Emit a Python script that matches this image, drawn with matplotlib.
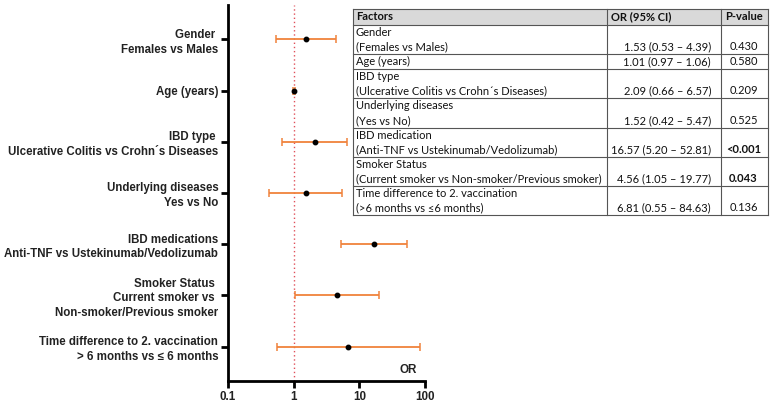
import matplotlib
matplotlib.use("Agg")
import matplotlib.pyplot as plt
from matplotlib.patches import Rectangle
import numpy as np

# ---- data ----
labels = [
    "Gender \nFemales vs Males",
    "Age (years)",
    "IBD type \nUlcerative Colitis vs Crohn\u00b4s Diseases",
    "Underlying diseases\nYes vs No",
    "IBD medications\nAnti-TNF vs Ustekinumab/Vedolizumab",
    "Smoker Status \nCurrent smoker vs \nNon-smoker/Previous smoker",
    "Time difference to 2. vaccination\n> 6 months vs \u2264 6 months",
]
or_vals = [1.53, 1.01, 2.09, 1.52, 16.57, 4.56, 6.81]
ci_low = [0.53, 0.97, 0.66, 0.42, 5.20, 1.05, 0.55]
ci_high = [4.39, 1.06, 6.57, 5.47, 52.81, 19.77, 84.63]
xticks = [0.1, 1, 10, 100]
xtick_labels = ["0.1", "1", "10", "100"]

tab_header = ["Factors", "OR (95% CI)", "P-value"]
tab_factors = [
    ["Gender", "(Females vs Males)"],
    ["Age (years)"],
    ["IBD type", "(Ulcerative Colitis vs Crohn\u00b4s Diseases)"],
    ["Underlying diseases", "(Yes vs No)"],
    ["IBD medication", "(Anti-TNF vs Ustekinumab/Vedolizumab)"],
    ["Smoker Status", "(Current smoker vs Non-smoker/Previous smoker)"],
    ["Time difference to 2. vaccination", "(>6 months vs \u22646 months)"],
]
tab_or = ["1.53 (0.53 \u2013 4.39)", "1.01 (0.97 \u2013 1.06)", "2.09 (0.66 \u2013 6.57)",
          "1.52 (0.42 \u2013 5.47)", "16.57 (5.20 \u2013 52.81)", "4.56 (1.05 \u2013 19.77)",
          "6.81 (0.55 \u2013 84.63)"]
tab_p = ["0.430", "0.580", "0.209", "0.525", "<0.001", "0.043", "0.136"]
tab_p_bold = [False, False, False, False, True, True, False]

W, H = 772, 403
fig = plt.figure(figsize=(W / 100, H / 100), dpi=100)
ax = fig.add_axes([228 / W, 1 - 381 / H, (425 - 228) / W, (381 - 5) / H])

orange = "#F0823C"
y = np.arange(len(labels))
xerr = [np.array(or_vals) - np.array(ci_low), np.array(ci_high) - np.array(or_vals)]
ax.errorbar(or_vals, y, xerr=xerr, fmt="none", ecolor=orange, elinewidth=1.3,
            capsize=3, capthick=1.1, zorder=2)
ax.plot(or_vals, y, "o", color="black", markersize=3.2, zorder=3)
ax.axvline(1, color="#E0505A", linestyle=(0, (1, 2)), linewidth=1.0, zorder=1)

ax.set_xscale("log")
ax.set_xlim(0.1, 100)
ax.set_ylim(len(labels) - 1 + 0.67, -0.67)
ax.set_xticks(xticks)
ax.set_xticklabels(xtick_labels)
ax.xaxis.set_minor_locator(matplotlib.ticker.NullLocator())
ax.set_yticks(y)
ax.set_yticklabels(labels, ha="right")
for sp in ["top", "right"]:
    ax.spines[sp].set_visible(False)
for sp in ["left", "bottom"]:
    ax.spines[sp].set_linewidth(2)
ax.tick_params(axis="both", width=2, length=5, direction="out", pad=2)
for t in ax.get_yticklabels():
    t.set_fontfamily("Liberation Sans")
    t.set_fontweight("bold")
    t.set_fontsize(8.3)
    t.set_linespacing(1.3)
    t.set_color("#222222")
for t in ax.get_xticklabels():
    t.set_fontfamily("Liberation Sans")
    t.set_fontweight("bold")
    t.set_fontsize(8.4)
    t.set_color("#222222")
ax.text(0.96, 0.012, "OR", transform=ax.transAxes, ha="right", va="bottom",
        fontfamily="Liberation Sans", fontweight="bold", fontsize=8.4, color="#222222")

# ---- table overlay ----
ov = fig.add_axes([0, 0, 1, 1], zorder=5)
ov.set_xlim(0, W)
ov.set_ylim(H, 0)
ov.axis("off")
ov.patch.set_alpha(0)

cx = [353, 607, 721, 768]
ry = [9, 25, 54, 69, 98, 128, 157, 186, 215]
ov.add_patch(Rectangle((cx[0], ry[0]), cx[-1] - cx[0], ry[-1] - ry[0],
                       facecolor="white", edgecolor="none", zorder=1))
ov.add_patch(Rectangle((cx[0], ry[0]), cx[-1] - cx[0], ry[1] - ry[0],
                       facecolor="#D9D9D9", edgecolor="none", zorder=1))
lc = "#555555"
for yy in ry:
    ov.plot([cx[0], cx[-1]], [yy, yy], color=lc, lw=0.8, zorder=2)
for xx in cx:
    ov.plot([xx, xx], [ry[0], ry[-1]], color=lc, lw=0.8, zorder=2)

tf = dict(fontfamily="Lato", fontsize=8.0, color="#111111", zorder=3)
ov.text(cx[0] + 3, (ry[0] + ry[1]) / 2, tab_header[0], ha="left", va="center",
        fontweight="bold", **tf)
ov.text(cx[1] + 4, (ry[0] + ry[1]) / 2, tab_header[1], ha="left", va="center",
        fontweight="bold", **tf)
ov.text((cx[2] + cx[3]) / 2, (ry[0] + ry[1]) / 2, tab_header[2], ha="center",
        va="center", fontweight="bold", **tf)
for i in range(len(tab_factors)):
    top, bot = ry[i + 1], ry[i + 2]
    lines = tab_factors[i]
    if len(lines) == 2:
        ov.text(cx[0] + 3, top + 7.5, lines[0], ha="left", va="center", **tf)
        ov.text(cx[0] + 3, bot - 7.5, lines[1], ha="left", va="center", **tf)
    else:
        ov.text(cx[0] + 3, (top + bot) / 2, lines[0], ha="left", va="center", **tf)
    yb = bot - 7.5 if len(lines) == 2 else (top + bot) / 2
    ov.text(cx[2] - 10, yb, tab_or[i], ha="right", va="center", **tf)
    ov.text((cx[2] + cx[3]) / 2 - 1, yb, tab_p[i], ha="center", va="center",
            fontweight="bold" if tab_p_bold[i] else "normal", **tf)

fig.savefig("out.png", dpi=100)
